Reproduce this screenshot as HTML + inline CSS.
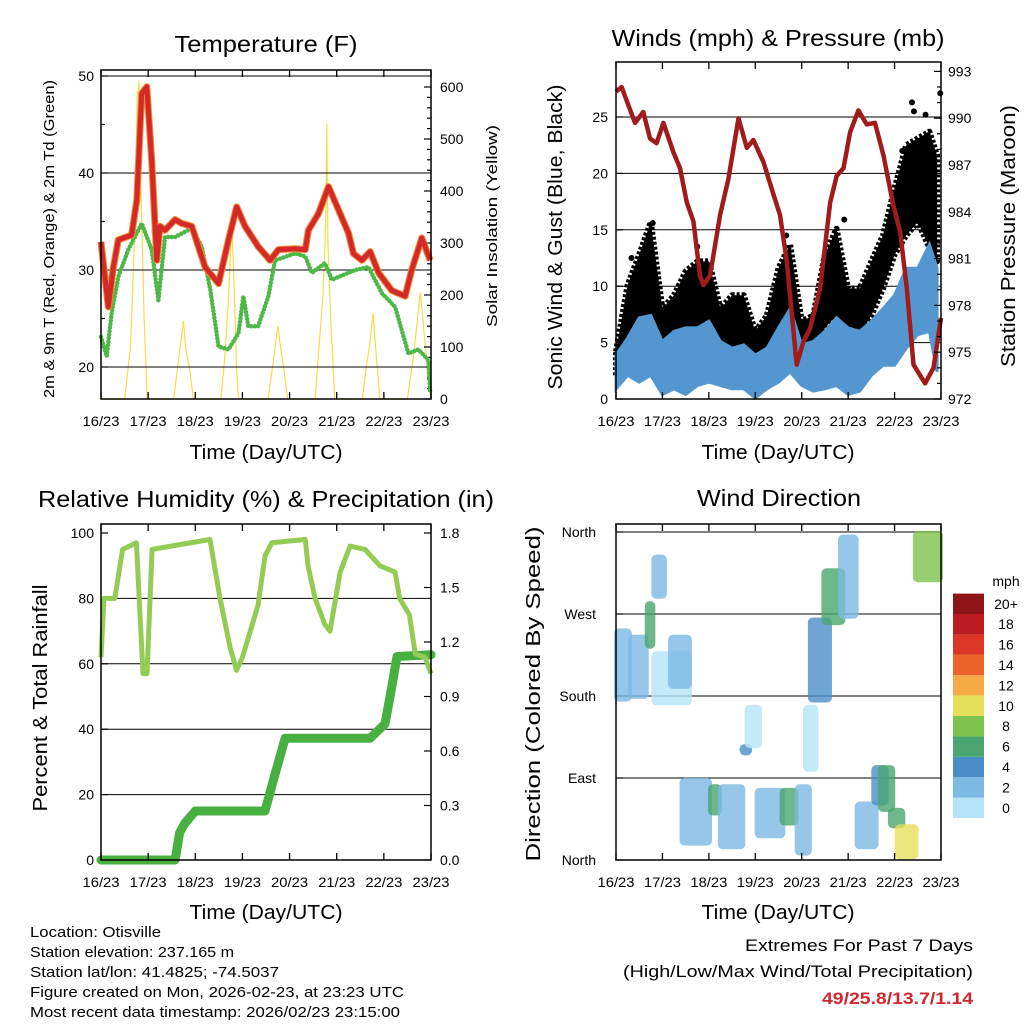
<!DOCTYPE html>
<html><head><meta charset="utf-8"><style>
html,body{margin:0;padding:0;background:#fff;}
svg{display:block;font-family:"Liberation Sans",sans-serif;}
</style></head><body>
<svg id="chart" width="1024" height="1024" viewBox="0 0 1024 1024" xmlns="http://www.w3.org/2000/svg">
<rect x="0" y="0" width="1024" height="1024" fill="#fff"/>
<g font-size="23" text-anchor="middle">
<text x="266" y="52" textLength="183" lengthAdjust="spacingAndGlyphs">Temperature (F)</text>
<text x="778" y="46" textLength="333" lengthAdjust="spacingAndGlyphs">Winds (mph) &amp; Pressure (mb)</text>
<text x="266" y="507" textLength="456" lengthAdjust="spacingAndGlyphs">Relative Humidity (%) &amp; Precipitation (in)</text>
<text x="779" y="506" textLength="164" lengthAdjust="spacingAndGlyphs">Wind Direction</text>
</g>
<g font-size="20" text-anchor="middle">
<text x="266" y="459" textLength="153" lengthAdjust="spacingAndGlyphs">Time (Day/UTC)</text>
<text x="778" y="459" textLength="153" lengthAdjust="spacingAndGlyphs">Time (Day/UTC)</text>
<text x="266" y="919" textLength="153" lengthAdjust="spacingAndGlyphs">Time (Day/UTC)</text>
<text x="778" y="919" textLength="153" lengthAdjust="spacingAndGlyphs">Time (Day/UTC)</text>
<text transform="translate(54,239) rotate(-90)" font-size="15" textLength="318" lengthAdjust="spacingAndGlyphs">2m &amp; 9m T (Red, Orange) &amp; 2m Td (Green)</text>
<text transform="translate(497,226) rotate(-90)" font-size="15" textLength="202" lengthAdjust="spacingAndGlyphs">Solar Insolation (Yellow)</text>
<text transform="translate(562,237) rotate(-90)" textLength="305" lengthAdjust="spacingAndGlyphs">Sonic Wind &amp; Gust (Blue, Black)</text>
<text transform="translate(1015,236) rotate(-90)" textLength="262" lengthAdjust="spacingAndGlyphs">Station Pressure (Maroon)</text>
<text transform="translate(47,698) rotate(-90)" textLength="227" lengthAdjust="spacingAndGlyphs">Percent &amp; Total Rainfall</text>
<text transform="translate(540,694) rotate(-90)" textLength="335" lengthAdjust="spacingAndGlyphs">Direction (Colored By Speed)</text>
</g>
<g font-size="15">
<text x="30" y="937" textLength="131" lengthAdjust="spacingAndGlyphs">Location: Otisville</text>
<text x="30" y="957" textLength="204" lengthAdjust="spacingAndGlyphs">Station elevation: 237.165 m</text>
<text x="30" y="977" textLength="249" lengthAdjust="spacingAndGlyphs">Station lat/lon: 41.4825; -74.5037</text>
<text x="30" y="997" textLength="374" lengthAdjust="spacingAndGlyphs">Figure created on Mon, 2026-02-23, at 23:23 UTC</text>
<text x="30" y="1017" textLength="370" lengthAdjust="spacingAndGlyphs">Most recent data timestamp: 2026/02/23 23:15:00</text>
</g>
<g font-size="17" text-anchor="end">
<text x="973" y="951" textLength="228" lengthAdjust="spacingAndGlyphs">Extremes For Past 7 Days</text>
<text x="973" y="977" textLength="350" lengthAdjust="spacingAndGlyphs">(High/Low/Max Wind/Total Precipitation)</text>
<text x="973" y="1004" fill="#d0282e" font-weight="bold" textLength="151" lengthAdjust="spacingAndGlyphs">49/25.8/13.7/1.14</text>
</g>
</svg>
<script>
// ---------- data ----------
const dayLabels=["16/23","17/23","18/23","19/23","20/23","21/23","22/23","23/23"];
const tempT=[0,3.7,6.3,8.8,15.6,18.2,20.7,23.3,25.8,28.4,30.1,32.6,37.7,41.1,46.2,53,59.8,64.9,69.1,73.3,80.1,86.1,90.3,98.8,104,105.6,110.7,115.8,120.9,126,128.5,132.8,137,141.3,148,154.8,158.2,163.3,167.6];
const tempF=[32.9,26.2,30.3,33.1,33.6,37.2,48.2,48.9,41.3,31.0,34.5,34.1,35.2,34.8,34.5,30.3,28.6,33.1,36.5,34.5,32.4,31.0,32.1,32.2,32.1,34.1,35.8,38.6,36.2,33.8,31.7,31.0,31.9,29.7,27.9,27.3,30.0,33.3,31.0];
const dewT=[0,2.9,5.4,8.8,13.9,20.7,25.8,29.2,32.6,37.7,46.2,51.3,55.7,59.8,64.9,70,72.5,75,80,85.2,88.6,98.8,104,107.3,114,117.5,129.4,136.2,143,149.7,156.5,161.6,166.7,167.6];
const dewF=[23.1,21.1,25.5,29.3,32.1,34.8,32.1,26.9,33.4,33.4,34.3,32.4,27.9,22.1,21.8,23.5,27.3,24.2,24.2,27.3,31.0,31.7,31.4,29.7,30.7,29.0,30.0,30.3,27.6,26.2,21.4,21.8,20.7,17.3];
const solarT=[0,12,15,17,18.5,19.3,20,21,22,23.5,37,39,41,42,43,45,47,61,63,65,66.5,67.5,69,70,85,88,90,91,93,95,109,111,113,114.5,115,115.5,117,119,133,135,137,138.5,140,142,156,159,161,162.5,164,166,168];
const solarW=[0,0,100,300,580,610,450,300,150,0,0,60,120,150,100,60,0,0,80,200,340,250,60,0,0,80,140,110,60,0,0,100,200,350,530,300,150,0,0,60,110,165,90,0,0,80,150,205,150,60,0];
const presT=[0,2.9,9.8,14.1,17.6,21,24.5,29.7,33.1,36.6,40,43.4,45.2,48.6,53.8,58.1,63.3,67.6,71,76.2,81.4,84.8,88.3,93.4,96.9,100.3,105.5,110.7,114.1,117.6,121,125.3,129.6,133.9,138.3,143.4,146.9,150.3,153.8,159.8,164.1,168];
const presMb=[991.7,992.0,989.7,990.4,988.7,988.4,989.7,987.8,986.8,984.6,983.4,979.9,979.3,979.9,983.8,986.1,990.0,988.1,988.6,987.2,985.1,983.8,980.8,974.2,975.7,976.5,979.1,984.6,986.3,986.8,989.1,990.5,989.6,989.7,987.6,984.4,982.7,979.1,974.2,973.0,974.0,977.2];
const windT=[0,6,12,18,24,30,36,42,48,54,60,66,72,78,84,90,96,102,108,114,120,126,132,138,144,150,156,162,166];
const windLo=[0.9,2.1,1.5,2.1,0.4,0.9,0.4,1.2,1.5,1.2,0.9,0.9,0.1,0.9,1.5,2.4,1.2,0.7,0.9,1.2,0.4,0.7,2.1,3.0,3.0,4.5,5.7,6.0,2.4];
const windHi=[3.9,5.4,7.2,7.4,5.1,6.0,6.3,6.3,6.9,5.1,4.5,4.8,3.9,4.5,6.3,8.0,4.8,5.1,6.0,7.2,6.3,6.0,6.9,8.0,9.2,11.6,11.6,13.7,11.6];
const gustLo=[2.1,3.9,4.8,6.3,4.5,6.0,6.3,6.0,5.7,4.5,4.5,4.5,2.7,3.3,5.7,6.9,3.9,3.9,6.3,7.4,5.4,5.7,7.4,9.8,12.8,14.5,15.7,13.4,12.2];
const gustHi=[4.2,10.1,12.8,15.7,8.0,9.2,11.3,12.2,12.2,8.0,9.2,9.2,6.0,7.4,11.6,13.7,6.9,7.4,12.8,15.1,9.8,9.8,12.2,14.5,18.7,22.5,23.1,23.7,21.6];
const gustOutT=[19,153,160,167.6,154,148,8,42,88,118];
const gustOutV=[15.6,26.3,25.2,27.1,25.5,22,12.5,13.5,14.5,15.9];
const rhT=[0,1.5,7,11,18,21.4,23.4,26,55.5,60.6,65.7,69,72,76,80,83.5,87,104,105.4,109,114,116.6,121.7,126.8,134.4,142,149.7,152,157,160,165,168];
const rhV=[62,80,80,95,97,57,57,95,98,80,65,58,62,70,78,93,97,98,90,80,72,70,88,96,95,90,88,80,75,63,62,57];
const rainT=[0,37.7,40,42.5,48,83.5,88,93.7,137,144.6,148,150.7,168];
const rainIn=[0,0,0.15,0.2,0.27,0.27,0.45,0.67,0.67,0.75,0.95,1.12,1.13];
// wind direction clusters: start time, end time, low dir, high dir, speed (mph)
const dirT0=[0,7.2,15.9,19.3,19.3,27.9,33.9,48.6,53.7,64.9,67.5,72.7,85.6,93.4,97.7,100.2,107.2,115.8,124.4,133,136.4,141.6,145.1,154.5];
const dirT1=[7.2,15.9,19.3,25.3,38.2,38.2,48.6,53.7,65.8,69.3,74.4,86.5,93.4,100.2,103.7,110.6,117.5,124.4,134.7,139.9,143.3,148.5,155.4,168];
const dirLo=[176,179,234,289,172,190,18,51,14,117,125,26,40,7,99,175,260,267,14,62,55,37,3,307];
const dirHi=[252,245,282,333,227,245,88,81,81,125,168,77,77,81,168,264,318,355,62,102,102,55,37,359];
const dirSpd=[2.5,3.5,6.5,3.5,1.5,3.5,3,6.5,2,4.5,1,2,6.5,3,1,4,6,3,2,4.5,6.5,7,10,9];
const cbColors=["#b5e3f7","#7cb9e3","#4a8ec7","#4aa56e","#7dc24c","#e5e05a","#f5aa45","#ee6329","#dc3626","#bb1c22","#8e1517"];
const cbLabels=["0","2","4","6","8","10","12","14","16","18","20+"];
const tempTicks=[20,30,40,50];
const solarTicks=[0,100,200,300,400,500,600];
const windTicks=[0,5,10,15,20,25];
const presTicks=[972,975,978,981,984,987,990,993];
const rhTicks=[0,20,40,60,80,100];
const rainTicks=["0.0","0.3","0.6","0.9","1.2","1.5","1.8"];
const dirTicks=[0,90,180,270,360];
const dirLabels=["North","East","South","West","North"];

// ---------- helpers ----------
const NS='http://www.w3.org/2000/svg';
const svg=document.getElementById('chart');
function mk(tag,attrs,parent){const e=document.createElementNS(NS,tag);for(const k in attrs)e.setAttribute(k,attrs[k]);(parent||svg).appendChild(e);return e;}
function lin(d0,d1,r0,r1){return v=>r0+(v-d0)*(r1-r0)/(d1-d0);}
const P={
 temp:{x0:101,x1:431,y0:70,y1:399},
 wind:{x0:616,x1:941,y0:62,y1:399},
 rh:{x0:101,x1:431,y0:524,y1:860},
 dir:{x0:616,x1:941,y0:524,y1:860}
};
function pathOf(ts,vs,xs,ys){return ts.map((t,i)=>(i?'L':'M')+xs(t).toFixed(1)+','+ys(vs[i]).toFixed(1)).join('');}
function bandOf(ts,lo,hi,xs,ys){
 let d='';
 ts.forEach((t,i)=>{d+=(i?'L':'M')+xs(t).toFixed(1)+','+ys(hi[i]).toFixed(1);});
 for(let i=ts.length-1;i>=0;i--){d+='L'+xs(ts[i]).toFixed(1)+','+ys(lo[i]).toFixed(1);}
 return d+'Z';
}

function frame(p,name){
 const g=mk('g',{});
 
 
 const xs=lin(0,168,p.x0,p.x1);
 for(let i=0;i<dayLabels.length;i++){
  const x=xs(i*24);
  const tk=mk('line',{x1:x,x2:x,y1:p.y1,y2:p.y1-7,stroke:'#000','stroke-width':1.3},g);
  
  
  const tt=mk('line',{x1:x,x2:x,y1:p.y0,y2:p.y0+7,stroke:'#000','stroke-width':1.3},g);
  
  
  const lb=mk('text',{x:x,y:p.y1+27,'font-size':14,'text-anchor':'middle',textLength:37,lengthAdjust:'spacingAndGlyphs'},g);
  lb.textContent=dayLabels[i];
  
  
 }
 const b=mk('rect',{x:p.x0,y:p.y0,width:p.x1-p.x0,height:p.y1-p.y0,fill:'none',stroke:'#000','stroke-width':1.5},g);
 
 
 return xs;
}
function grid(p,y,name){
 const l=mk('line',{x1:p.x0,x2:p.x1,y1:y,y2:y,stroke:'#000','stroke-width':1});
 
 
}
function yTick(x,y,dir,len,label,anchor,lx,name){
 const l=mk('line',{x1:x,x2:x+dir*len,y1:y,y2:y,stroke:'#000','stroke-width':1.2});
 
 
 if(label!==null){
  const t=mk('text',{x:lx,y:y+5,'font-size':14,'text-anchor':anchor});
  t.textContent=label;
  
  
 }
}

// ---------- Temperature panel ----------
(function(){
 const p=P.temp;
 const xs=lin(0,168,p.x0,p.x1);
 const yT=lin(20,30,367,270);
 const yS=lin(0,600,399,87);
 const sp=mk('path',{d:pathOf(solarT,solarW,xs,yS),fill:'none',stroke:'#f7dc4a','stroke-width':1.2});
 
 
 tempTicks.forEach(v=>{grid(p,yT(v),'temp-gridline');yTick(p.x0,yT(v),1,7,String(v),'end',94,'temp-y');});
 [25,35,45].forEach(v=>yTick(p.x0,yT(v),1,4,null,'end',0,'temp-y-minor'));
 solarTicks.forEach(v=>yTick(p.x1,yS(v),-1,7,String(v),'start',440,'solar-y'));
 for(let v=20;v<=600;v+=20){if(v%100)yTick(p.x1,yS(v),-1,4,null,'start',0,'solar-y-minor');}
 const dp=mk('path',{d:pathOf(dewT,dewF,xs,yT),fill:'none',stroke:'#4db847','stroke-width':4.5,'stroke-linecap':'round','stroke-dasharray':'0 3.5'});
 
 
 const op=mk('path',{d:pathOf(tempT,tempF,xs,yT),fill:'none',stroke:'#f58a3a','stroke-width':7,'stroke-linejoin':'round'});
 
 
 const rp=mk('path',{d:pathOf(tempT,tempF,xs,yT),fill:'none',stroke:'#d42a27','stroke-width':5,'stroke-linejoin':'round'});
 
 
 frame(p,'temp');
})();

// ---------- Wind panel ----------
(function(){
 const p=P.wind;
 const xs=lin(0,168,p.x0,p.x1);
 const yW=lin(0,5,399,342.6);
 const yP=lin(972,975,399,352.2);
 [5,10,15,20,25].forEach(v=>grid(p,yW(v),'wind-gridline'));
 const gb=mk('path',{d:bandOf(windT,gustLo,gustHi,xs,yW),fill:'#000',stroke:'#000','stroke-width':6,'stroke-dasharray':'3 2','stroke-linejoin':'round'});
 
 
 for(let i=0;i<gustOutT.length;i++){
  const c=mk('circle',{cx:xs(gustOutT[i]),cy:yW(gustOutV[i]),r:3,fill:'#000'});
  
  
 }
 const wb=mk('path',{d:bandOf(windT,windLo,windHi,xs,yW),fill:'#5497d0',stroke:'#5497d0','stroke-width':3});
 
 
 const pp=mk('path',{d:pathOf(presT,presMb,xs,yP),fill:'none',stroke:'#a01c1c','stroke-width':4.5,'stroke-linejoin':'round'});
 
 
 windTicks.forEach(v=>yTick(p.x0,yW(v),1,7,String(v),'end',608,'wind-y'));
 presTicks.forEach(v=>yTick(p.x1,yP(v),-1,7,String(v),'start',948,'pressure-y'));
 for(let v=973;v<993;v++){if((v-972)%3)yTick(p.x1,yP(v),-1,4,null,'start',0,'pressure-y-minor');}
 frame(p,'wind');
})();

// ---------- RH panel ----------
(function(){
 const p=P.rh;
 const xs=lin(0,168,p.x0,p.x1);
 const yR=lin(0,100,860,533);
 const yN=lin(0,1.8,860,533);
 [20,40,60,80].forEach(v=>grid(p,yR(v),'rh-gridline'));
 rhTicks.forEach(v=>yTick(p.x0,yR(v),1,7,String(v),'end',94,'rh-y'));
 rainTicks.forEach(v=>yTick(p.x1,yN(parseFloat(v)),-1,7,v,'start',440,'rain-y'));
 const rp=mk('path',{d:pathOf(rainT,rainIn,xs,yN),fill:'none',stroke:'#47b041','stroke-width':9,'stroke-linejoin':'round','stroke-linecap':'round'});
 
 
 const hp=mk('path',{d:pathOf(rhT,rhV,xs,yR),fill:'none',stroke:'#92cc54','stroke-width':5,'stroke-linejoin':'round'});
 
 
 frame(p,'rh');
})();

// ---------- Direction panel ----------
(function(){
 const p=P.dir;
 const xs=lin(0,168,p.x0,p.x1);
 const yD=lin(0,360,860,532);
 [90,180,270,360].forEach(v=>grid(p,yD(v),'direction-gridline'));
 dirTicks.forEach((v,i)=>yTick(p.x0,yD(v),1,7,dirLabels[i],'end',596,'direction-y'));
 function col(s){return cbColors[Math.min(10,Math.floor(s/2))];}
 for(let i=0;i<dirT0.length;i++){
  const x0=xs(dirT0[i]),x1=xs(dirT1[i]);
  const y0=yD(dirHi[i]),y1=yD(dirLo[i]);
  const r=mk('rect',{x:x0-2,y:y0-2,width:x1-x0+4,height:y1-y0+4,rx:5,fill:col(dirSpd[i]),opacity:0.8});
  
  
 }
 frame(p,'dir');
 const cb=mk('g',{});
 
 
 const h=20.4;
 for(let i=0;i<cbColors.length;i++){
  const y=818-(i+1)*h;
  const r=mk('rect',{x:953,y:y,width:31,height:h,fill:cbColors[i]},cb);
  
  
  const t=mk('text',{x:1006,y:y+h/2+5,'font-size':14,'text-anchor':'middle'},cb);
  t.textContent=cbLabels[i];
  
  
 }
 const u=mk('text',{x:1006,y:586,'font-size':14,'text-anchor':'middle'},cb);
 u.textContent='mph';
 
 
})();
</script>
</body></html>
